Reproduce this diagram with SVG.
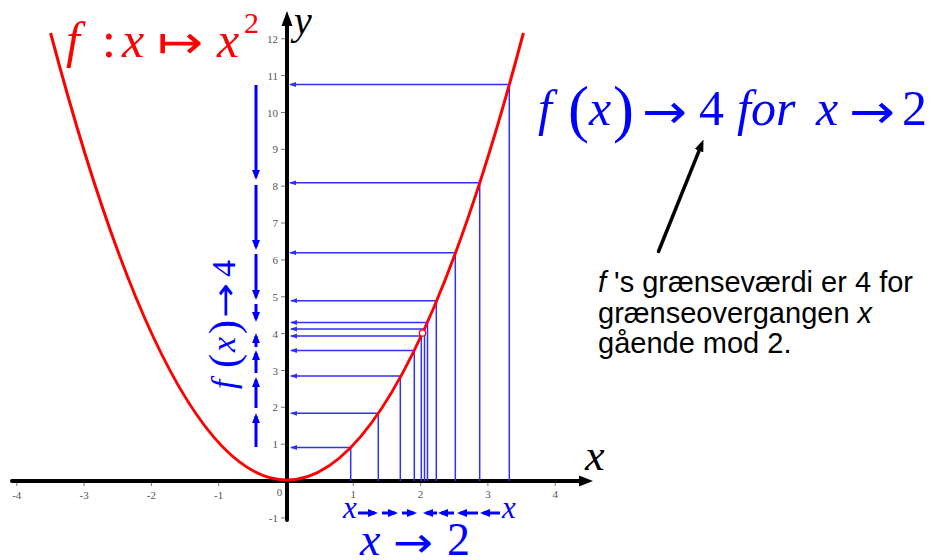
<svg xmlns="http://www.w3.org/2000/svg" width="935" height="560" viewBox="0 0 935 560">
<style>
.math{font-family:"Liberation Serif","DejaVu Serif",serif}
.arr{font-family:"Noto Sans","DejaVu Sans",sans-serif}
.it{font-style:italic}
.tick{font-family:"Liberation Serif","DejaVu Serif",serif;font-size:11px;fill:#555}
.guide{stroke:#2f2fff;stroke-width:1.5;fill:none}
.barrow{stroke:#0000ff;stroke-width:3;fill:none}
.note{font-family:"Liberation Sans",Arial,sans-serif;font-size:29px;fill:#000}
</style>
<defs>
<marker id="ah-small" markerUnits="userSpaceOnUse" markerWidth="7" markerHeight="6" refX="6" refY="3" orient="auto"><path d="M0,0.6 L7,3 L0,5.4 z" fill="#2f2fff"/></marker>
<marker id="ah-blue" markerUnits="userSpaceOnUse" markerWidth="10" markerHeight="8" refX="7" refY="4" orient="auto"><path d="M0,0 L10,4 L0,8 z" fill="#0000ff"/></marker>
<marker id="ah-black" markerUnits="userSpaceOnUse" markerWidth="12" markerHeight="9" refX="2" refY="4.5" orient="auto"><path d="M0,0 L12,4.5 L0,9 z" fill="#000"/></marker>
</defs>
<rect width="935" height="560" fill="#fff"/>

<g id="axes">
<g stroke="#777" stroke-width="1">
<line x1="16.8" y1="483" x2="16.8" y2="486"/><line x1="84.1" y1="483" x2="84.1" y2="486"/><line x1="151.4" y1="483" x2="151.4" y2="486"/><line x1="218.7" y1="483" x2="218.7" y2="486"/><line x1="353.3" y1="483" x2="353.3" y2="486"/><line x1="420.6" y1="483" x2="420.6" y2="486"/><line x1="487.9" y1="483" x2="487.9" y2="486"/><line x1="555.2" y1="483" x2="555.2" y2="486"/>
<line x1="281" y1="38.8" x2="285" y2="38.8"/><line x1="281" y1="75.6" x2="285" y2="75.6"/><line x1="281" y1="112.5" x2="285" y2="112.5"/><line x1="281" y1="149.3" x2="285" y2="149.3"/><line x1="281" y1="186.2" x2="285" y2="186.2"/><line x1="281" y1="223" x2="285" y2="223"/><line x1="281" y1="259.9" x2="285" y2="259.9"/><line x1="281" y1="296.8" x2="285" y2="296.8"/><line x1="281" y1="333.6" x2="285" y2="333.6"/><line x1="281" y1="370.5" x2="285" y2="370.5"/><line x1="281" y1="407.3" x2="285" y2="407.3"/><line x1="281" y1="444.2" x2="285" y2="444.2"/><line x1="281" y1="517.9" x2="285" y2="517.9"/>
</g>
<line x1="12" y1="481" x2="582" y2="481" stroke="#000" stroke-width="4" stroke-linecap="round"/>
<polygon points="579,475.5 593,481 579,486.5" fill="#000"/>
<line x1="287" y1="520" x2="287" y2="24" stroke="#000" stroke-width="4" stroke-linecap="round"/>
<polygon points="281.5,26 287,11 292.5,26" fill="#000"/>
<g class="tick" text-anchor="middle">
<text x="16.8" y="499">-4</text><text x="84.1" y="499">-3</text><text x="151.4" y="499">-2</text><text x="218.7" y="499">-1</text><text x="279.5" y="496">0</text><text x="353.3" y="498">1</text><text x="420.6" y="498">2</text><text x="487.9" y="498">3</text><text x="555.2" y="498">4</text>
</g>
<g class="tick" text-anchor="end">
<text x="278" y="42.8">12</text><text x="278" y="79.6">11</text><text x="278" y="116.5">10</text><text x="278" y="153.3">9</text><text x="278" y="190.2">8</text><text x="278" y="227">7</text><text x="278" y="263.9">6</text><text x="278" y="300.8">5</text><text x="278" y="337.6">4</text><text x="278" y="374.5">3</text><text x="278" y="411.3">2</text><text x="278" y="448.2">1</text><text x="278" y="521.9">-1</text>
</g>
<text class="math it" x="585" y="470" font-size="44" fill="#000">x</text>
<text class="math it" x="294" y="34" font-size="40" fill="#000">y</text>
</g>

<g id="connectors">
<g class="guide">
<line x1="350.7" y1="481" x2="350.7" y2="447.5"/><line x1="378.3" y1="481" x2="378.3" y2="413.3"/><line x1="400.3" y1="481" x2="400.3" y2="376"/><line x1="414.3" y1="481" x2="414.3" y2="350.5"/><line x1="421.3" y1="481" x2="421.3" y2="336"/><line x1="424.5" y1="481" x2="424.5" y2="329"/><line x1="427.5" y1="481" x2="427.5" y2="322.5"/><line x1="436.3" y1="481" x2="436.3" y2="300.7"/><line x1="455.3" y1="481" x2="455.3" y2="252.7"/><line x1="479.7" y1="481" x2="479.7" y2="182.8"/><line x1="509.3" y1="481" x2="509.3" y2="84.5"/>
</g>
<g class="guide" marker-end="url(#ah-small)">
<line x1="351.5" y1="447.5" x2="291" y2="447.5"/><line x1="379" y1="413.3" x2="291" y2="413.3"/><line x1="401" y1="376" x2="291" y2="376"/><line x1="415" y1="350.5" x2="291" y2="350.5"/><line x1="422" y1="336" x2="291" y2="336"/><line x1="425.2" y1="329" x2="291" y2="329"/><line x1="428.2" y1="322.5" x2="291" y2="322.5"/><line x1="437" y1="300.7" x2="291" y2="300.7"/><line x1="456" y1="252.7" x2="290" y2="252.7"/><line x1="480.5" y1="182.8" x2="290" y2="182.8"/><line x1="510" y1="84.5" x2="290" y2="84.5"/>
</g>
<g class="barrow" marker-end="url(#ah-blue)">
<line x1="256" y1="85" x2="256" y2="177"/><line x1="256" y1="185" x2="256" y2="247"/><line x1="256" y1="254" x2="256" y2="297"/><line x1="256" y1="304" x2="256" y2="319"/>
<line x1="256" y1="447" x2="256" y2="416"/><line x1="256" y1="408" x2="256" y2="380"/><line x1="256" y1="373" x2="256" y2="353"/><line x1="256" y1="347" x2="256" y2="336"/>
<line x1="358" y1="513" x2="375" y2="513"/><line x1="382" y1="513" x2="395" y2="513"/><line x1="402" y1="513" x2="414" y2="513"/>
<line x1="437" y1="513" x2="426" y2="513"/><line x1="454" y1="513" x2="441" y2="513"/><line x1="478" y1="513" x2="460" y2="513"/><line x1="500" y1="513" x2="483" y2="513"/>
</g>
<line x1="658.5" y1="251.5" x2="699.8" y2="148.8" stroke="#000" stroke-width="3.5" stroke-linecap="round" marker-end="url(#ah-black)"/>
</g>

<g id="curve">
<path d="M50.6,33 Q287,927 523.4,33" fill="none" stroke="#ff0000" stroke-width="3"/>
<circle cx="422.5" cy="333" r="3.2" fill="#fff" stroke="#ff0000" stroke-width="1.3"/>
</g>

<g id="title" class="math" fill="#ff0000">
<text x="66" y="57" font-size="50" class="it">f</text>
<text x="102" y="57" font-size="50">:</text>
<text x="122" y="57" font-size="50" class="it">x</text>
<text class="arr" x="157" y="58" font-size="46" textLength="46" lengthAdjust="spacingAndGlyphs">↦</text>
<text x="217" y="57" font-size="50" class="it">x</text>
<text x="244" y="33" font-size="30">2</text>
</g>

<g id="limit-formula" class="math" fill="#0000ff">
<text x="538" y="125" font-size="50" class="it">f</text>
<text x="568" y="130" font-size="63">(</text>
<text x="589" y="125" font-size="50" class="it">x</text>
<text x="613" y="130" font-size="63">)</text>
<text class="arr" x="642" y="128" font-size="48" textLength="45" lengthAdjust="spacingAndGlyphs">→</text>
<text x="699" y="125" font-size="50">4</text>
<text x="737" y="125" font-size="50" class="it">for</text>
<text x="816" y="125" font-size="50" class="it">x</text>
<text class="arr" x="849" y="128" font-size="48" textLength="46" lengthAdjust="spacingAndGlyphs">→</text>
<text x="902" y="125" font-size="50">2</text>
</g>

<g id="fx-to-4" class="math" fill="#0000ff" transform="translate(235,392) rotate(-90)">
<text x="3" y="0" font-size="34" class="it">f</text>
<text x="24" y="3" font-size="42">(</text>
<text x="40" y="0" font-size="34" class="it">x</text>
<text x="58" y="3" font-size="42">)</text>
<text class="arr" x="74" y="1" font-size="32" textLength="35" lengthAdjust="spacingAndGlyphs">→</text>
<text x="115" y="0" font-size="34">4</text>
</g>

<g id="x-to-2" class="math" fill="#0000ff">
<text x="343" y="518" font-size="31" class="it">x</text>
<text x="502" y="518" font-size="31" class="it">x</text>
<text x="360" y="555" font-size="46" class="it">x</text>
<text class="arr" x="393" y="557" font-size="42" textLength="40" lengthAdjust="spacingAndGlyphs">→</text>
<text x="447" y="555" font-size="46">2</text>
</g>

<g id="note" class="note">
<text x="598" y="292"><tspan font-style="italic">f</tspan> 's grænseværdi er 4 for</text>
<text x="598" y="323">grænseovergangen <tspan font-style="italic">x</tspan></text>
<text x="598" y="353">gående mod 2.</text>
</g>
</svg>
